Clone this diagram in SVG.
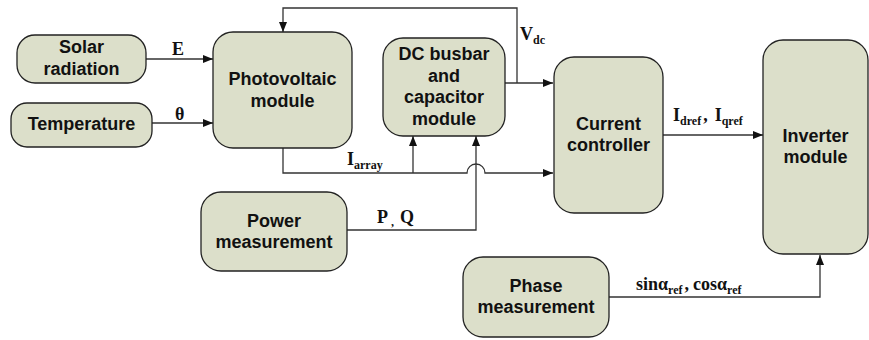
<svg xmlns="http://www.w3.org/2000/svg" width="869" height="340" viewBox="0 0 869 340">
<style>
.box{fill:#dcdfca;stroke:#222;stroke-width:1.3}
.t{font-family:"Liberation Sans",Arial,sans-serif;font-weight:bold;font-size:18px;fill:#111;text-anchor:middle}
.l{font-family:"Liberation Serif","Times New Roman",serif;font-weight:bold;font-size:18px;fill:#111}
.s{font-size:12px}
.c{fill:none;stroke:#333;stroke-width:1.3}
</style>
<defs>
<marker id="a" viewBox="0 0 10 8" refX="10" refY="4" markerWidth="10" markerHeight="8" markerUnits="userSpaceOnUse" orient="auto">
<path d="M0,0 L10,4 L0,8 Z" fill="#111"/>
</marker>
</defs>
<rect width="869" height="340" fill="#fff"/>
<g id="connectors">
<path class="c" d="M146 59 H213" marker-end="url(#a)"/>
<path class="c" d="M152 123 H213" marker-end="url(#a)"/>
<path class="c" d="M505 83 H553" marker-end="url(#a)"/>
<path class="c" d="M517 83 V8 H283 V32" marker-end="url(#a)"/>
<path class="c" d="M283 148 V173 H467 A9 9 0 0 1 485 173 H553" marker-end="url(#a)"/>
<path class="c" d="M413 173 V136" marker-end="url(#a)"/>
<path class="c" d="M347 230 H476 V136" marker-end="url(#a)"/>
<path class="c" d="M663 135 H763" marker-end="url(#a)"/>
<path class="c" d="M609 297 H820 V255" marker-end="url(#a)"/>
</g>
<g id="labels">
<text class="l" x="172" y="55">E</text>
<text class="l" x="175" y="120">θ</text>
<text class="l" x="520" y="40">V<tspan class="s" dy="4">dc</tspan></text>
<text class="l" x="347" y="165">I<tspan class="s" dy="4">array</tspan></text>
<text class="l" x="377" y="223">P<tspan class="s" dx="3" dy="3">,</tspan><tspan dx="6" dy="-3">Q</tspan></text>
<text class="l" x="673" y="121">I<tspan class="s" dy="4">dref</tspan><tspan dx="2" dy="-4">,</tspan><tspan dx="7">I</tspan><tspan class="s" dy="4">qref</tspan></text>
<text class="l" x="636" y="290">sinα<tspan class="s" dy="4">ref</tspan><tspan dx="2" dy="-4">,</tspan><tspan dx="4">cosα</tspan><tspan class="s" dy="4">ref</tspan></text>
</g>
<g id="solar">
<rect class="box" x="17" y="35" width="129" height="48" rx="18"/>
<text class="t" x="81.5" y="53">Solar</text>
<text class="t" x="81.5" y="75">radiation</text>
</g>
<g id="temperature">
<rect class="box" x="11" y="103" width="141" height="44" rx="16"/>
<text class="t" x="81.5" y="130">Temperature</text>
</g>
<g id="pv">
<rect class="box" x="213" y="32" width="139" height="116" rx="20"/>
<text class="t" x="282.5" y="85">Photovoltaic</text>
<text class="t" x="282.5" y="107">module</text>
</g>
<g id="dcbus">
<rect class="box" x="383" y="38" width="122" height="98" rx="20"/>
<text class="t" x="444" y="60">DC busbar</text>
<text class="t" x="444" y="82">and</text>
<text class="t" x="444" y="103">capacitor</text>
<text class="t" x="444" y="125">module</text>
</g>
<g id="current">
<rect class="box" x="554" y="57" width="109" height="156" rx="20"/>
<text class="t" x="608.5" y="130">Current</text>
<text class="t" x="608.5" y="151">controller</text>
</g>
<g id="inverter">
<rect class="box" x="763" y="40" width="105" height="214" rx="20"/>
<text class="t" x="815.5" y="142">Inverter</text>
<text class="t" x="815.5" y="163">module</text>
</g>
<g id="power">
<rect class="box" x="201" y="192" width="146" height="79" rx="20"/>
<text class="t" x="274" y="227">Power</text>
<text class="t" x="274" y="248">measurement</text>
</g>
<g id="phase">
<rect class="box" x="463" y="257" width="146" height="80" rx="20"/>
<text class="t" x="536" y="292">Phase</text>
<text class="t" x="536" y="313">measurement</text>
</g>
</svg>
